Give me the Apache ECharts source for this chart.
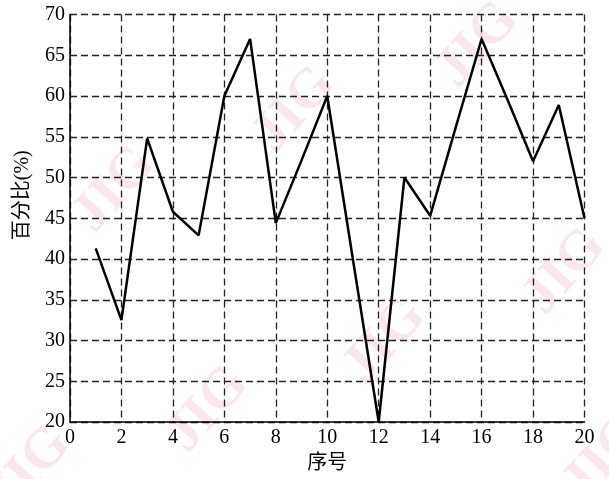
<!DOCTYPE html>
<html>
<head>
<meta charset="utf-8">
<script src="https://cdn.jsdelivr.net/npm/echarts@6/dist/echarts.min.js"></script>
<style>html,body{margin:0;padding:0;background:#fff}#c{width:609px;height:479px}</style>
</head>
<body>
<div id="c"></div>
<script>
const xValues = [1,2,3,4,5,6,7,8,9,10,11,12,13,14,15,16,17,18,19,20];
const yValues = [41.3,32.5,54.8,45.8,42.9,60,67,44.4,52.1,60,39.9,20,50,45.3,56.2,67,59.6,52,58.9,45];
const xName = '序号';
const yName = '百分比(%)';
const watermark = 'JIG';
const watermarkSpots = [[115,190],[295,110],[478,45],[565,272],[385,342],[208,410],[30,470],[605,458]];

const font = '"Liberation Serif", "Noto Sans CJK SC", serif';
const chart = echarts.init(document.getElementById('c'), null, {renderer:'canvas'});
const dashed = {show:true, lineStyle:{color:'#222', width:1.3, type:[7,4]}};
chart.setOption({
  animation:false,
  backgroundColor:'#fff',
  graphic: watermarkSpots.map(p => ({
    type:'text', x:p[0], y:p[1], rotation: 48*Math.PI/180, z:-10, silent:true,
    style:{text:watermark, font:'bold 56px "Liberation Serif", serif', fill:'rgba(225,120,155,0.18)', textAlign:'center', textVerticalAlign:'middle'}
  })),
  grid:{left:70, right:24.5, top:14.5, bottom:56.5, containLabel:false},
  xAxis:{
    type:'value', min:0, max:20, interval:2,
    name:xName, nameLocation:'middle', nameGap:32,
    nameTextStyle:{fontFamily:font, fontSize:20, color:'#000'},
    axisLine:{show:true, lineStyle:{color:'#000', width:1.5}},
    axisTick:{show:false},
    axisLabel:{fontFamily:font, fontSize:20, color:'#000', margin:6},
    splitLine:dashed
  },
  yAxis:{
    type:'value', min:20, max:70, interval:5,
    name:yName, nameLocation:'middle', nameGap:37,
    nameTextStyle:{fontFamily:font, fontSize:20, color:'#000', padding:[0,0,0,46]},
    axisLine:{show:true, lineStyle:{color:'#000', width:1.5}},
    axisTick:{show:false},
    axisLabel:{fontFamily:font, fontSize:20, color:'#000', margin:5},
    splitLine:dashed
  },
  series:[{
    type:'line', data:xValues.map((x,i)=>[x,yValues[i]]),
    symbol:'none', clip:false,
    lineStyle:{color:'#000', width:2.5}
  }]
});
</script>
</body>
</html>
